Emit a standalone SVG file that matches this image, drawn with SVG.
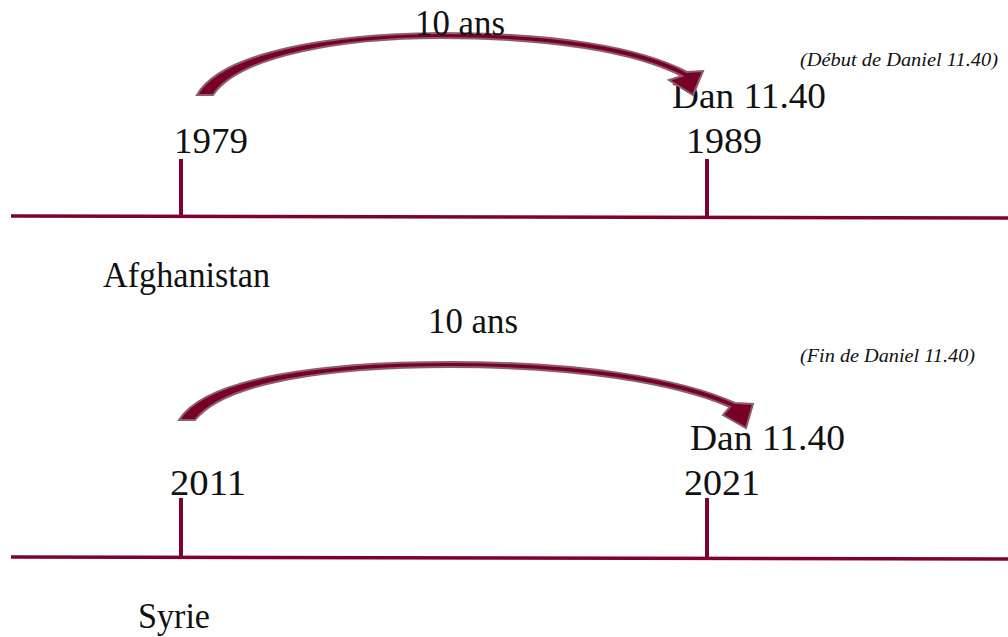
<svg xmlns="http://www.w3.org/2000/svg" width="1008" height="637" viewBox="0 0 1008 637">
<style>
.axis{stroke:#7f0033;stroke-width:3.5;fill:none}
.tick{stroke:#7f0033;stroke-width:4;fill:none}
.arc{fill:#780022;stroke:#8b5c73;stroke-width:2;stroke-linejoin:miter}
.t{font-family:"Liberation Serif","Times New Roman",serif;fill:#111}
.big{font-size:36px}
.mid{font-size:35px}
.note{font-size:18px;font-style:italic}
</style>
<rect width="1008" height="637" fill="#fff"/>
<g id="timeline-afghanistan">
<line class="axis" x1="11" y1="216" x2="1008" y2="218"/>
<text class="t mid" x="103" y="287" textLength="167" lengthAdjust="spacingAndGlyphs">Afghanistan</text>
</g>
<g id="node-1979">
<line class="tick" x1="181" y1="159" x2="181" y2="217"/>
<text class="t big" x="174" y="153" textLength="74" lengthAdjust="spacingAndGlyphs">1979</text>
</g>
<g id="node-1989">
<line class="tick" x1="707" y1="159" x2="707" y2="218"/>
<text class="t big" x="686" y="153" textLength="76" lengthAdjust="spacingAndGlyphs">1989</text>
<text class="t big" x="672" y="108" textLength="154" lengthAdjust="spacingAndGlyphs">Dan 11.40</text>
<text class="t note" x="800" y="66" textLength="198" lengthAdjust="spacingAndGlyphs">(Début de Daniel 11.40)</text>
</g>
<g id="timeline-syrie">
<line class="axis" x1="11" y1="557" x2="1008" y2="559"/>
<text class="t mid" x="138" y="628" textLength="72" lengthAdjust="spacingAndGlyphs">Syrie</text>
</g>
<g id="node-2011">
<line class="tick" x1="181" y1="498" x2="181" y2="558"/>
<text class="t big" x="170" y="495" textLength="76" lengthAdjust="spacingAndGlyphs">2011</text>
</g>
<g id="node-2021">
<line class="tick" x1="707" y1="498" x2="707" y2="559"/>
<text class="t big" x="684" y="495" textLength="76" lengthAdjust="spacingAndGlyphs">2021</text>
<text class="t big" x="690" y="450" textLength="155" lengthAdjust="spacingAndGlyphs">Dan 11.40</text>
<text class="t note" x="800" y="362" textLength="175" lengthAdjust="spacingAndGlyphs">(Fin de Daniel 11.40)</text>
</g>
<g id="connectors">
<path class="arc" d="M197,95 C222,52 330,34 440,33 C555,33 640,47 687,72 L703,71 L693,95 L669,80 L682,76 C635,52 550,38 440,38 C345,38 240,55 213,95 Z"/>
<text class="t big" x="415" y="35" textLength="90" lengthAdjust="spacingAndGlyphs">10 ans</text>
<path class="arc" d="M179,420 C205,378 320,362 450,362 C580,362 680,378 735,403 L753,404 L746,428 L723,415 L730,407 C675,383 575,367 450,367 C330,367 225,382 195,420 Z"/>
<text class="t big" x="428" y="333" textLength="90" lengthAdjust="spacingAndGlyphs">10 ans</text>
</g>
</svg>
